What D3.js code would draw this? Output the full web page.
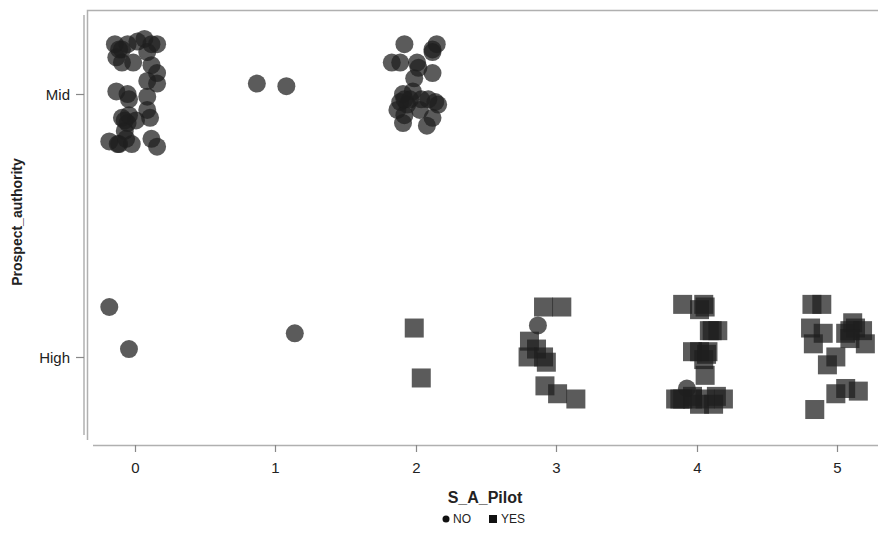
<!DOCTYPE html>
<html>
<head>
<meta charset="utf-8">
<script src="https://cdn.jsdelivr.net/npm/d3@7"></script>
<style>
  body { margin: 0; background: #fff; }
  text { font-family: "Liberation Sans", Arial, sans-serif; }
</style>
</head>
<body>
<div id="my_dataviz"></div>
<script>
// category labels
var authLevels = ["High", "Mid"];
var pilotTicks = [0, 1, 2, 3, 4, 5];
var legendKeys = ["NO", "YES"];

// NO group (circles): jittered S_A_Pilot, category, vertical jitter
var noPilot = [-0.14, -0.09, 0.02, 0.07, 0.12, 0.16, -0.13, -0.09, -0.01, 0.09, 0.12, 0.16, 0.09, 0.16,
  -0.13, -0.05, -0.04, 0.09, -0.09, -0.05, 0.01, 0.09, 0.11, -0.07, -0.18, -0.11, -0.02, 0.12, 0.16,
  -0.07, -0.04, -0.11, -0.05, -0.12, -0.06,
  0.87, 1.08,
  1.92, 2.12, 2.15, 1.83, 1.89, 2.01, 2.12, 2.02, 2.12, 1.99, 1.91, 1.98, 1.89, 1.94, 2.04, 2.14, 2.16,
  1.87, 1.92, 2.03, 2.12, 1.91, 2.08, 1.96, 1.92, 2.09,
  -0.18, -0.04, 1.14, 2.87, 3.93];
var noAuth = ["Mid","Mid","Mid","Mid","Mid","Mid","Mid","Mid","Mid","Mid","Mid","Mid","Mid","Mid",
  "Mid","Mid","Mid","Mid","Mid","Mid","Mid","Mid","Mid","Mid","Mid","Mid","Mid","Mid","Mid",
  "Mid","Mid","Mid","Mid","Mid","Mid",
  "Mid","Mid",
  "Mid","Mid","Mid","Mid","Mid","Mid","Mid","Mid","Mid","Mid","Mid","Mid","Mid","Mid","Mid","Mid","Mid",
  "Mid","Mid","Mid","Mid","Mid","Mid","Mid","Mid","Mid",
  "High","High","High","High","High"];
var noJit = [0.19, 0.17, 0.20, 0.21, 0.19, 0.19, 0.14, 0.12, 0.12, 0.16, 0.11, 0.08, 0.05, 0.04,
  0.01, 0.00, -0.02, -0.01, -0.09, -0.11, -0.10, -0.06, -0.09, -0.14, -0.18, -0.19, -0.19, -0.17, -0.20,
  -0.10, -0.08, 0.17, 0.19, -0.19, -0.17,
  0.04, 0.03,
  0.19, 0.17, 0.19, 0.12, 0.12, 0.12, 0.16, 0.10, 0.08, 0.06, 0.00, 0.01, -0.03, -0.04, -0.02, -0.03, -0.04,
  -0.06, -0.08, -0.06, -0.09, -0.11, -0.12, -0.02, -0.02, -0.02,
  0.19, 0.03, 0.09, 0.12, -0.12];

// YES group (squares): all High
var yesPilot = [1.99, 2.04,
  2.91, 3.04, 2.81, 2.86, 2.80, 2.91, 2.93, 2.92, 3.01, 3.14,
  3.90, 4.05, 4.02, 4.09, 4.15, 3.97, 4.08, 4.05, 4.06, 3.85, 3.90, 3.97, 4.14, 4.19, 4.02, 4.12,
  4.06, 4.02, 4.07, 3.97, 4.06, 4.11, 3.88,
  4.82, 4.89, 4.81, 4.90, 4.83, 5.11, 5.06, 5.13, 5.18, 5.20, 5.09, 4.99, 4.93, 5.06, 4.99, 5.15, 4.84, 5.09];
var yesJit = [0.11, -0.08,
  0.19, 0.19, 0.06, 0.03, 0.00, 0.00, -0.02, -0.11, -0.14, -0.16,
  0.20, 0.20, 0.18, 0.10, 0.10, 0.02, 0.02, -0.01, -0.07, -0.16, -0.16, -0.15, -0.15, -0.16, -0.18, -0.18,
  0.19, 0.02, 0.01, -0.16, -0.16, 0.10, -0.16,
  0.20, 0.20, 0.11, 0.09, 0.05, 0.13, 0.09, 0.11, 0.10, 0.05, 0.07, 0.00, -0.03, -0.12, -0.14, -0.13, -0.20, 0.10];

var width = 878, height = 536;
var svg = d3.select("#my_dataviz").append("svg")
    .attr("width", width).attr("height", height);

var x = d3.scaleLinear().domain([-0.36, 5.29]).range([84, 878]);
var y = d3.scaleLinear().domain([-0.335, 1.32]).range([445, 10]);
var catY = function(c) { return authLevels.indexOf(c); };

var axisCol = "#b0b0b0";

// frame (top + left)
svg.append("path")
    .attr("d", "M87.5,440 V10.5 H878")
    .attr("fill", "none").attr("stroke", axisCol).attr("stroke-width", 1.5);

// y axis
svg.append("line").attr("x1", 84).attr("x2", 84).attr("y1", 15).attr("y2", 435)
    .attr("stroke", axisCol).attr("stroke-width", 1.5);
authLevels.forEach(function(c) {
    var yy = Math.round(y(catY(c))) + 0.5;
    svg.append("line").attr("x1", 76).attr("x2", 84).attr("y1", yy).attr("y2", yy)
        .attr("stroke", "#888").attr("stroke-width", 1.2);
    svg.append("text").attr("x", 70).attr("y", yy).attr("dy", "0.35em")
        .attr("text-anchor", "end").attr("font-size", 15).attr("fill", "#222").text(c);
});

// x axis
svg.append("line").attr("x1", 93).attr("x2", 878).attr("y1", 445.5).attr("y2", 445.5)
    .attr("stroke", axisCol).attr("stroke-width", 1.5);
pilotTicks.forEach(function(t) {
    var xx = Math.round(x(t)) + 0.5;
    svg.append("line").attr("x1", xx).attr("x2", xx).attr("y1", 445).attr("y2", 452)
        .attr("stroke", "#888").attr("stroke-width", 1.2);
    svg.append("text").attr("x", xx).attr("y", 473)
        .attr("text-anchor", "middle").attr("font-size", 15).attr("fill", "#222").text(t);
});

// axis titles
svg.append("text").attr("x", 485).attr("y", 503).attr("text-anchor", "middle")
    .attr("font-size", 16).attr("font-weight", "bold").attr("fill", "#222").text("S_A_Pilot");
svg.append("text").attr("transform", "translate(22,222)rotate(-90)")
    .attr("text-anchor", "middle").attr("font-size", 14).attr("font-weight", "bold")
    .attr("fill", "#222").text("Prospect_authority");

// marks
var fillCol = "#1e1e1e", op = 0.73;
var r = 9, s = 19;

svg.append("g").selectAll("circle")
    .data(noPilot.map(function(p, i) { return {x: p, y: catY(noAuth[i]) + noJit[i]}; }))
    .enter().append("circle")
    .attr("cx", function(d) { return x(d.x); })
    .attr("cy", function(d) { return y(d.y); })
    .attr("r", r)
    .attr("fill", fillCol).attr("fill-opacity", op);

svg.append("g").selectAll("rect")
    .data(yesPilot.map(function(p, i) { return {x: p, y: catY("High") + yesJit[i]}; }))
    .enter().append("rect")
    .attr("x", function(d) { return x(d.x) - s / 2; })
    .attr("y", function(d) { return y(d.y) - s / 2; })
    .attr("width", s).attr("height", s)
    .attr("fill", fillCol).attr("fill-opacity", op);

// legend
var lg = svg.append("g").attr("transform", "translate(0,519)");
lg.append("circle").attr("cx", 446).attr("cy", 0).attr("r", 3.5).attr("fill", "#111");
lg.append("text").attr("x", 453).attr("y", 0).attr("dy", "0.35em").attr("font-size", 12)
    .attr("fill", "#222").text(legendKeys[0]);
lg.append("rect").attr("x", 489).attr("y", -4).attr("width", 8).attr("height", 8).attr("fill", "#111");
lg.append("text").attr("x", 501).attr("y", 0).attr("dy", "0.35em").attr("font-size", 12)
    .attr("fill", "#222").text(legendKeys[1]);
</script>
</body>
</html>
